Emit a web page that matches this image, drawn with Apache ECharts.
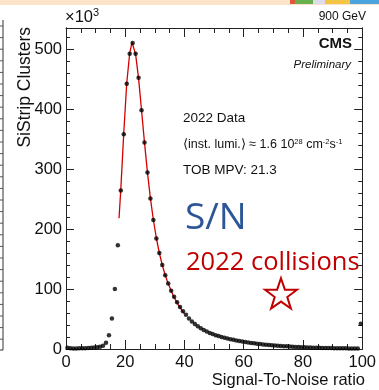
<!DOCTYPE html>
<html>
<head>
<meta charset="utf-8">
<script src="https://cdn.jsdelivr.net/npm/echarts@6/dist/echarts.min.js"></script>
<style>
html,body{margin:0;padding:0;background:#fff;}
#chart{width:379px;height:390px;}
</style>
</head>
<body>
<div id="chart"></div>
<script>
// ---- data (counts in units of 10^3) ----
const snBins = [0.5,1.5,2.5,3.5,4.5,5.5,6.5,7.5,8.5,9.5,10.5,11.5,12.5,13.5,14.5,15.5,16.5,17.5,18.5,19.5,
  20.5,21.5,22.5,23.5,24.5,25.5,26.5,27.5,28.5,29.5,30.5,31.5,32.5,33.5,34.5,35.5,36.5,37.5,38.5,39.5,
  40.5,41.5,42.5,43.5,44.5,45.5,46.5,47.5,48.5,49.5,50.5,51.5,52.5,53.5,54.5,55.5,56.5,57.5,58.5,59.5,
  60.5,61.5,62.5,63.5,64.5,65.5,66.5,67.5,68.5,69.5,70.5,71.5,72.5,73.5,74.5,75.5,76.5,77.5,78.5,79.5,
  80.5,81.5,82.5,83.5,84.5,85.5,86.5,87.5,88.5,89.5,90.5,91.5,92.5,93.5,94.5,95.5,96.5,97.5,98.5,99.5];
const clusterCounts = [2.0,1.2,1.0,1.0,1.1,1.2,1.4,1.6,1.9,2.3,2.9,3.8,5.5,10.5,23,51,100,173,264,358,
  442,492,510,492,452,398,344,294,251,215,184,160,140,123,109,97,87,78,70,63,
  57,51,46,41.5,38,34.5,31.5,29,26.8,24.8,23,21.5,20,18.6,17.4,16.3,15.3,14.3,13.4,12.5,
  11.7,10.9,10.2,9.5,8.9,8.3,7.7,7.2,6.7,6.2,5.8,5.4,5.0,4.7,4.4,4.1,3.8,3.5,3.2,3.0,
  2.8,2.6,2.4,2.2,2.0,1.9,1.8,1.7,1.6,1.5,1.4,1.3,1.2,1.15,1.1,1.0,0.95,0.9,0.85,42];
const fitX = [17.9,18.5,19.5,20.5,21.5,22.3,23.5,24.5,25.5,26.5,27.5,28.5,29.5,30.5,31.5,32.5,33.5,34.5,35.5,36.5,37.5,38.5,39.5,40.0];
const fitY = [218,266,360,443,493,511,491,451,398,344,294,251,215,185,160,140,123,109,97,86,77,69,62,59];
const xTickLabels = ['0','20','40','60','80','100'];
const yTickLabels = ['0','100','200','300','400','500'];

const xMin = 0, xMax = 100, yMin = 0, yMax = 535;

const chart = echarts.init(document.getElementById('chart'), null, {renderer:'canvas'});

const axisCol = '#222';
function xAx(pos, labels) {
  return {
    type:'value', position:pos, min:xMin, max:xMax, interval:20,
    axisLine:{show:true, onZero:false, lineStyle:{color:axisCol, width:1}},
    axisTick:{show:true, inside:true, length:9, lineStyle:{color:axisCol}},
    minorTick:{show:true, splitNumber:4, length:5, lineStyle:{color:axisCol}},
    splitLine:{show:false}, minorSplitLine:{show:false},
    axisLabel:{show:labels, margin:5, fontSize:16.5, color:'#111', fontFamily:'Liberation Sans',
      formatter:(v)=>{const i = xTickLabels.indexOf(String(v)); return i>=0 ? xTickLabels[i] : '';}}
  };
}
function yAx(pos, interval, len, labels) {
  return {
    type:'value', position:pos, min:yMin, max:yMax, interval:interval,
    axisLine:{show:true, onZero:false, lineStyle:{color:axisCol, width:1}},
    axisTick:{show:true, inside:true, length:len, lineStyle:{color:axisCol}},
    splitLine:{show:false},
    axisLabel:{show:labels, margin:4, fontSize:16.5, color:'#111', fontFamily:'Liberation Sans', showMaxLabel:false,
      formatter:(v)=>{const i = yTickLabels.indexOf(String(v)); return i>=0 ? yTickLabels[i] : '';}}
  };
}

// star outline (decoration)
const starCx = 281, starCy = 295, starR = 16.8, starr = 6.6;
const starPts = [];
for (let k = 0; k < 10; k++) {
  const r = (k % 2 === 0) ? starR : starr;
  const a = -Math.PI/2 + k*Math.PI/5;
  starPts.push([starCx + r*Math.cos(a), starCy + r*Math.sin(a)]);
}
// left neighbour strip ticks (decoration)
const stripEls = [{type:'line', shape:{x1:3,y1:20,x2:3,y2:350}, style:{stroke:'#333', lineWidth:1}}];
for (let yy = 26; yy < 350; yy += 11.6) {
  stripEls.push({type:'line', shape:{x1:0,y1:yy,x2:3,y2:yy}, style:{stroke:'#555', lineWidth:1}});
}
stripEls.push({type:'line', shape:{x1:0,y1:350,x2:3,y2:350}, style:{stroke:'#333', lineWidth:1}});

const option = {
  animation:false,
  backgroundColor:'#fff',
  grid:{left:66, right:14, top:28, bottom:41, containLabel:false},
  xAxis:[xAx('bottom', true), xAx('top', false)],
  yAxis:[yAx('left',100,8,true), yAx('left',20,4,false), yAx('right',100,8,false), yAx('right',20,4,false)],
  series:[
    {type:'line', xAxisIndex:0, yAxisIndex:0, data:fitX.map((x,i)=>[x, fitY[i]]),
      showSymbol:false, symbol:'none', lineStyle:{color:'#d40000', width:1.3}, z:3},
    {type:'scatter', xAxisIndex:0, yAxisIndex:0, data:snBins.map((x,i)=>[x, clusterCounts[i]]),
      symbol:'circle', symbolSize:4.5, itemStyle:{color:'#000'}, z:4}
  ],
  graphic:[
    {type:'rect', shape:{x:0,y:0,width:379,height:5}, style:{fill:'#fce4cb'}, silent:true},
    {type:'rect', shape:{x:290,y:0,width:5,height:4}, style:{fill:'#e0573a'}},
    {type:'rect', shape:{x:295,y:0,width:18,height:4}, style:{fill:'#69b14e'}},
    {type:'rect', shape:{x:313,y:0,width:12,height:4}, style:{fill:'#dcdcea'}},
    {type:'rect', shape:{x:325,y:0,width:25,height:4}, style:{fill:'#f4c445'}},
    {type:'rect', shape:{x:350,y:0,width:29,height:4}, style:{fill:'#4ba4de'}},
    {type:'group', children:stripEls},
    {type:'text', x:65, y:17, style:{text:'{a|×10}{s|3}', textVerticalAlign:'middle',
      rich:{a:{fontSize:16.5, fontFamily:'Liberation Sans', fill:'#111'}, s:{fontSize:11, fontFamily:'Liberation Sans', fill:'#111', verticalAlign:'top', padding:[0,0,8,0]}}}},
    {type:'text', x:366, y:17, style:{text:'900 GeV', fontSize:12, fontFamily:'Liberation Sans', fill:'#111', textAlign:'right', textVerticalAlign:'middle'}},
    {type:'text', x:352, y:43.5, style:{text:'CMS', fontSize:15, fontWeight:'bold', fontFamily:'Liberation Sans', fill:'#111', textAlign:'right', textVerticalAlign:'middle'}},
    {type:'text', x:351, y:65, style:{text:'Preliminary', fontSize:11.5, fontStyle:'italic', fontFamily:'Liberation Sans', fill:'#111', textAlign:'right', textVerticalAlign:'middle'}},
    {type:'text', x:183, y:118.5, style:{text:'2022 Data', fontSize:13.5, fontFamily:'Liberation Sans', fill:'#111', textVerticalAlign:'middle'}},
    {type:'text', x:183, y:145, style:{text:'{a|⟨inst. lumi.⟩ ≈ 1.6 10}{s|28}{a| cm}{s|-2}{a|s}{s|-1}', textVerticalAlign:'middle',
      rich:{a:{fontSize:12.5, fontFamily:'Liberation Sans', fill:'#111'}, s:{fontSize:7.5, fontFamily:'Liberation Sans', fill:'#111', verticalAlign:'top', padding:[0,0,6,0]}}}},
    {type:'text', x:183, y:170, style:{text:'TOB MPV: 21.3', fontSize:13.5, fontFamily:'Liberation Sans', fill:'#111', textVerticalAlign:'middle'}},
    {type:'text', x:185, y:218, style:{text:'S/N', fontSize:37, fontFamily:'Open Sans', fill:'#2b5597', textVerticalAlign:'middle'}},
    {type:'text', x:186, y:263, style:{text:'2022 collisions', fontSize:25.5, fontFamily:'Open Sans', fill:'#c00000', textVerticalAlign:'middle'}},
    {type:'polygon', shape:{points:starPts}, style:{fill:'#fff', stroke:'#c00000', lineWidth:2}},
    {type:'text', x:25.5, y:27, rotation:Math.PI/2, style:{text:'SiStrip Clusters', fontSize:17.5, fontFamily:'Liberation Sans', fill:'#111', textAlign:'right', textVerticalAlign:'middle'}},
    {type:'text', x:365, y:380, style:{text:'Signal-To-Noise ratio', fontSize:16.5, fontFamily:'Liberation Sans', fill:'#111', textAlign:'right', textVerticalAlign:'middle'}}
  ]
};
chart.setOption(option);
</script>
</body>
</html>
